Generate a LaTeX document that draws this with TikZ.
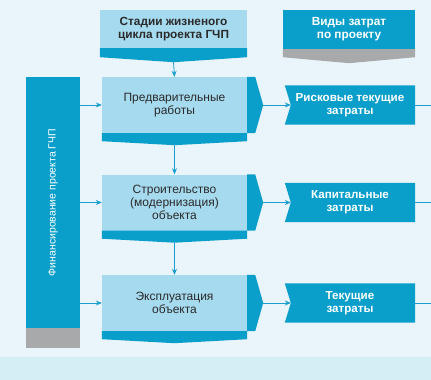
\documentclass[tikz,border=0pt]{standalone}
\usepackage{fontspec}
\setmainfont{Liberation Sans}
\usetikzlibrary{arrows.meta,calc}
\pgfdeclarelayer{canvas}
\pgfdeclarelayer{shapes}
\pgfsetlayers{canvas,shapes,main}
\definecolor{bg}{HTML}{EAF5FB}
\definecolor{bgstrip}{HTML}{D5EDF4}
\definecolor{dkblue}{HTML}{0A9FCB}
\definecolor{ltblue}{HTML}{A6DAEE}
\definecolor{greyband}{HTML}{A8A9AB}
\definecolor{arrblue}{HTML}{1A9ED0}
\definecolor{txtdark}{HTML}{2A2A2A}
\tikzset{
  stagebox/.style={rectangle,fill=ltblue,inner sep=0pt,minimum width=145pt,minimum height=56pt,
    text=txtdark,align=center,font=\fontsize{12}{13}\selectfont},
  headlt/.style={rectangle,fill=ltblue,inner sep=0pt,minimum width=147pt,minimum height=38pt,
    text=txtdark,align=center,font=\fontsize{11.8}{13}\selectfont\bfseries},
  headdk/.style={rectangle,fill=dkblue,inner sep=0pt,minimum width=132pt,minimum height=39pt,
    text=white,align=center,font=\fontsize{11.8}{13}\selectfont\bfseries},
  costbox/.style={rectangle,inner sep=0pt,minimum width=130pt,minimum height=39pt,
    text=white,align=center,font=\fontsize{11.6}{13}\selectfont\bfseries},
  finbar/.style={rectangle,fill=dkblue,inner sep=0pt,minimum width=54pt,minimum height=251pt},
  greybox/.style={rectangle,fill=greyband,inner sep=0pt,minimum width=54pt,minimum height=20pt},
  arr/.style={draw=arrblue,line width=0.8pt,-{Stealth[length=6pt,width=5pt]}},
  plainline/.style={draw=arrblue,line width=0.8pt},
}
\begin{document}
\begin{tikzpicture}[x=1pt,y=-1pt]
\useasboundingbox (0,0) rectangle (431,380);
\begin{pgfonlayer}{canvas}
\fill[bg] (0,0) rectangle (431,380);
\fill[bgstrip] (0,357) rectangle (431,380);
\end{pgfonlayer}
\coordinate (edge) at (431,0);

% headers
\node[headlt] (h1) at (173.5,29) {Стадии жизненого\\цикла проекта ГЧП};
\fill[dkblue] (h1.south west) -- (h1.south east) -- ([yshift=-9pt]h1.south east)
  -- ([yshift=-14pt]h1.south) -- ([yshift=-9pt]h1.south west) -- cycle;
\coordinate (h1tip) at ([yshift=-14pt]h1.south);

\node[headdk] (h2) at (349,29.5) {Виды затрат\\по проекту};
\fill[greyband] (h2.south west) -- (h2.south east) -- ([yshift=-8pt]h2.south east)
  -- ([yshift=-14pt]h2.south) -- ([yshift=-8pt]h2.south west) -- cycle;

% financing bar
\node[finbar] (fin) at (53,202.5) {};
\node[greybox,anchor=north] (fing) at (fin.south) {};
\node[rotate=90,text=white,font=\fontsize{10.5}{12}\selectfont] (fintxt) at (fin.center) {Финансирование проекта ГЧП};

% stages
\node[stagebox] (s1) at (174.5,105) {Предварительные\\работы};
\node[stagebox] (s2) at (174.5,202.5) {Строительство\\(модернизация)\\объекта};
\node[stagebox] (s3) at (174.5,303) {Эксплуатация\\объекта};

\foreach \s in {s1,s2,s3}{
  \fill[dkblue] (\s.south west) -- (\s.south east) -- ([yshift=-8pt]\s.south east)
    -- ([yshift=-12pt]\s.south) -- ([yshift=-8pt]\s.south west) -- cycle;
  \coordinate (\s tip) at ([yshift=-12pt]\s.south);
  \fill[dkblue] (\s.north east) -- ([xshift=8pt]\s.north east) -- ([xshift=16pt]\s.east)
    -- ([xshift=8pt]\s.south east) -- (\s.south east) -- cycle;
  \coordinate (\s tab) at ([xshift=16pt]\s.east);
}

% cost boxes
\node[costbox] (r1) at (350,105) {Рисковые текущие\\затраты};
\node[costbox] (r2) at (350,202.5) {Капитальные\\затраты};
\node[costbox] (r3) at (350,303) {Текущие\\затраты};
\foreach \r in {r1,r2,r3}{
  \begin{pgfonlayer}{shapes}
  \fill[dkblue] (\r.north west) -- (\r.north east) -- (\r.south east) -- (\r.south west)
    -- ([xshift=6pt]\r.west) -- cycle;
  \end{pgfonlayer}
  \coordinate (\r notch) at ([xshift=6pt]\r.west);
  \coordinate (\r out) at (\r.east -| edge);
}

% connectors
\draw[arr] (h1tip) -- (s1.north);
\draw[arr] (s1tip) -- (s2.north);
\draw[arr] (s2tip) -- (s3.north);
\foreach \s/\r in {s1/r1,s2/r2,s3/r3}{
  \draw[arr] (fin.east |- \s.west) -- (\s.west);
  \draw[arr] (\s tab) -- (\r notch);
  \draw[plainline] (\r.east) -- (\r out);
}
\end{tikzpicture}
\end{document}
